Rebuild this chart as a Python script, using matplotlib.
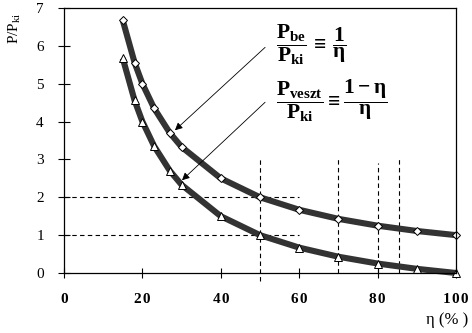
import numpy as np
import matplotlib
matplotlib.use("Agg")
import matplotlib.pyplot as plt

# efficiency values (%) and the two ratios read at them
eta = [15, 18, 20, 23, 27, 30, 40, 50, 60, 70, 80, 90, 100]
p_be = [6.67, 5.56, 5.00, 4.35, 3.70, 3.33, 2.50, 2.00, 1.67, 1.43, 1.25, 1.11, 1.00]
p_veszt = [5.67, 4.56, 4.00, 3.35, 2.70, 2.33, 1.50, 1.00, 0.67, 0.43, 0.25, 0.11, 0.00]

# dashed helper lines: (y, x_from, x_to) and (x, y_from, y_to)
hlines = [(2, 0, 60), (1, 0, 60)]
vlines = [(50, -0.2, 3.0), (70, 0, 3.0), (80, 0, 2.9), (85.5, 0, 3.0)]

xticks = [0, 20, 40, 60, 80, 100]
yticks = [0, 1, 2, 3, 4, 5, 6, 7]

plt.rcParams['font.family'] = ['Liberation Serif', 'DejaVu Serif']
plt.rcParams['mathtext.fontset'] = 'custom'
for k in ('rm', 'it', 'bf'):
    plt.rcParams['mathtext.' + k] = 'Liberation Serif:bold'
plt.rcParams['mathtext.sf'] = 'Liberation Serif'

W, H = 472, 333
fig = plt.figure(figsize=(W / 100, H / 100), dpi=100)
ax = fig.add_axes([64 / W, 1 - 273 / H, (456 - 64) / W, (273 - 8) / H])

dash = dict(color='black', lw=0.8, ls=(0, (4, 3)), clip_on=False)
for y, x0, x1 in hlines:
    ax.plot([x0, x1], [y, y], **dash)
for x, y0, y1 in vlines:
    ax.plot([x, x], [y0, y1], **dash)

line = dict(color='#333333', lw=4.4, solid_capstyle='butt', clip_on=False,
            markerfacecolor='white', markeredgecolor='black', markeredgewidth=0.7)
ax.plot(eta, p_be, marker='D', markersize=4.5, **line)
ax.plot(eta, p_veszt, marker='^', markersize=6, **line)

ax.set_xlim(0, 100)
ax.set_ylim(0, 7)
ax.set_xticks(xticks)
ax.set_yticks(yticks)
# slightly spread digits on the x axis
ax.set_xticklabels(['\u200a'.join(str(v)) for v in xticks], fontsize=11, fontweight='bold')
ax.set_yticklabels([str(v) for v in yticks], fontsize=11)
ax.tick_params(axis='x', direction='inout', length=7, width=0.8, pad=11)
ax.tick_params(axis='y', direction='inout', length=9, width=0.8, pad=10)
for s in ax.spines.values():
    s.set_linewidth(0.9)

arrow = dict(arrowstyle='-|>', lw=0.6, color='black', mutation_scale=11,
             shrinkA=0, shrinkB=0)
ax.annotate('', xy=(28.3, 3.77), xytext=(51.3, 5.96), arrowprops=arrow)
ax.annotate('', xy=(30.1, 2.45), xytext=(51.3, 4.51), arrowprops=arrow)

fig.text(276 / W, 1 - 45 / H, r'$\dfrac{P_{be}}{P_{ki}}\,\equiv\,\dfrac{1}{\eta}$',
         fontsize=15.5, ha='left', va='center')
fig.text(276 / W, 1 - 101 / H, r'$\dfrac{P_{veszt}}{P_{ki}}\equiv\dfrac{1-\eta}{\eta}$',
         fontsize=15.5, ha='left', va='center')

fig.text(15 / W, 1 - 28 / H, r'P/P$_{\mathsf{ki}}$', rotation=90, fontsize=11,
         ha='center', va='center')
fig.text(447 / W, 1 - 320 / H, 'η (% )', fontsize=12, ha='center', va='center')

fig.savefig('out.png', dpi=100)
